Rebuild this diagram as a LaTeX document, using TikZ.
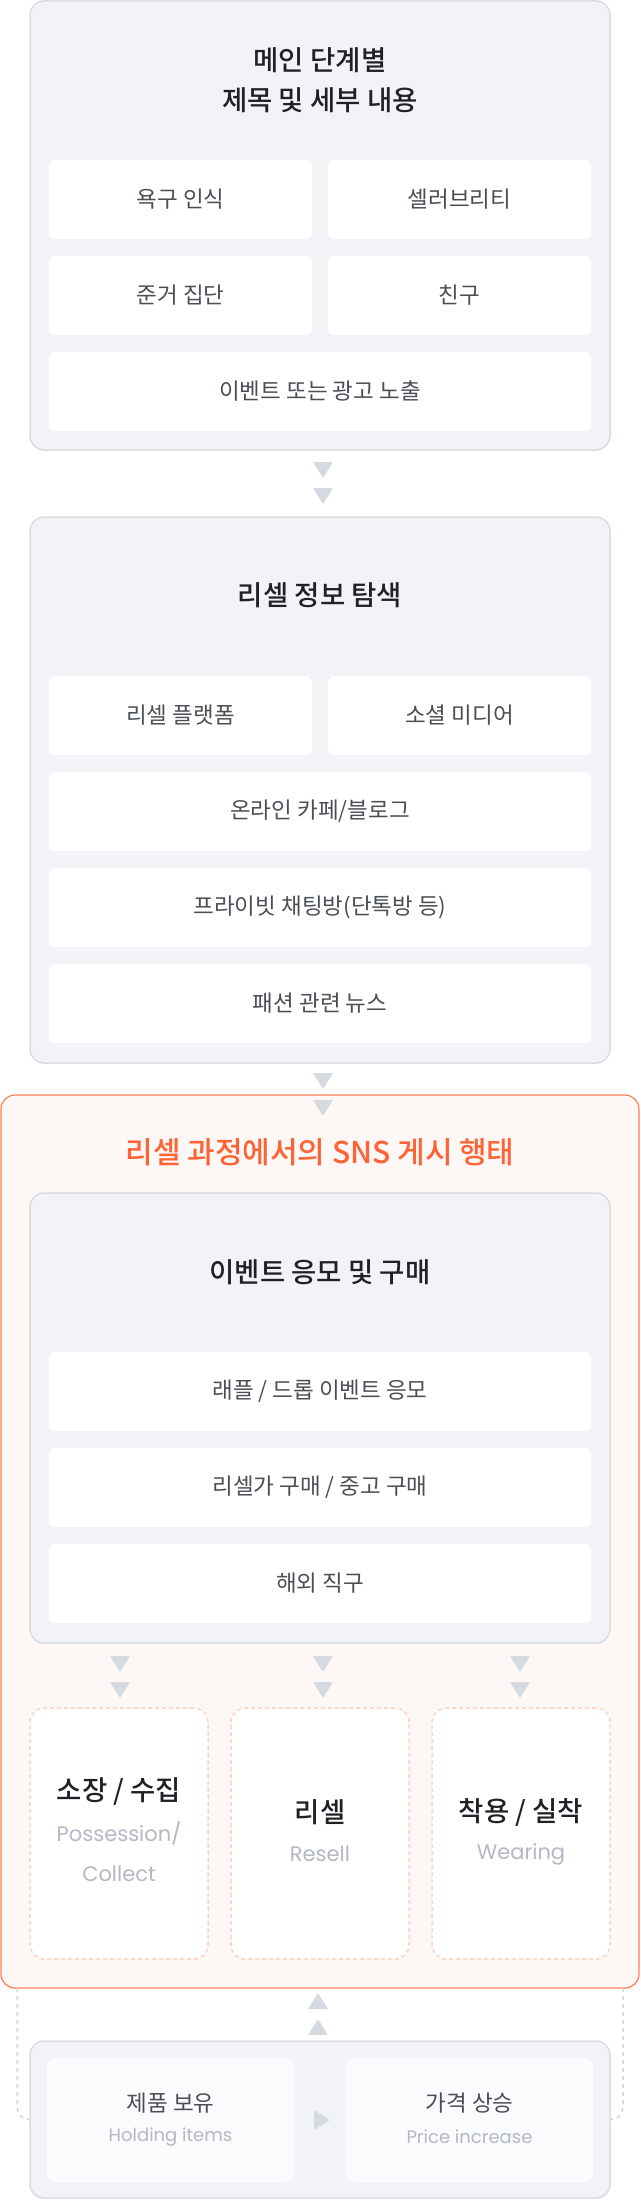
\documentclass[tikz,border=0pt]{standalone}
\usepackage{fontspec}
\setmainfont{Noto Sans CJK KR}[BoldFont={Noto Sans CJK KR Medium}]
\newfontfamily\latinfont{Poppins}

\definecolor{panelfill}{HTML}{F2F3F6}
\definecolor{panelline}{HTML}{D9DCE3}
\definecolor{trifill}{HTML}{D5D9E0}
\definecolor{itemtext}{HTML}{4A4E57}
\definecolor{headtext}{HTML}{1E2126}
\definecolor{orangefill}{HTML}{FDF7F5}
\definecolor{orangeline}{HTML}{FF7F56}
\definecolor{orangetext}{HTML}{FF6233}
\definecolor{dashline}{HTML}{FFD2C2}
\definecolor{subtext}{HTML}{B3B8C5}
\definecolor{softfill}{HTML}{FAFBFC}
\definecolor{connline}{HTML}{D3D6DD}

\begin{document}
\begin{tikzpicture}[x=1pt, y=-1pt,
	panel/.style={draw=panelline, fill=panelfill, line width=1.5pt, rounded corners=14pt, inner sep=0pt, minimum width=580pt},
	item/.style={fill=white, rounded corners=6pt, inner sep=0pt, minimum height=79pt, text=itemtext, font=\fontsize{22.5}{26}\selectfont},
	half/.style={item, minimum width=263pt},
	full/.style={item, minimum width=542pt},
	head/.style={text=headtext, font=\fontsize{27.5}{40}\selectfont\bfseries, align=center},
	sub/.style={text=subtext, font=\latinfont\fontsize{21}{25}\selectfont},
	dashbox/.style={draw=dashline, fill=white, line width=1.5pt, dash pattern=on 4pt off 3pt, rounded corners=14pt, inner sep=0pt, minimum width=178pt, minimum height=251pt},
	tri/.style={fill=trifill, rounded corners=1pt},
	conn/.style={draw=connline, line width=1.5pt, dash pattern=on 4pt off 4pt, rounded corners=12pt}]

	\fill[white] (0,0) rectangle (640,2200);
	\useasboundingbox (0,0) rectangle (640,2200);

	% main stage
	\node[panel, minimum height=449pt] (main) at (320,225.5) {};
	\node[head] (maintitle) at (320,80) {메인 단계별\\제목 및 세부 내용};
	\node[half] (need) at (180.5,199.5) {욕구 인식};
	\node[half] (celeb) at (459.5,199.5) {셀러브리티};
	\node[half] (group) at (180.5,295.5) {준거 집단};
	\node[half] (friend) at (459.5,295.5) {친구};
	\node[full] (ads) at (320,391.5) {이벤트 또는 광고 노출};

	% search
	\node[panel, minimum height=546pt] (search) at (320,790) {};
	\node[head] (searchtitle) at (320,595) {리셀 정보 탐색};
	\node[half] (platform) at (180.5,715.5) {리셀 플랫폼};
	\node[half] (social) at (459.5,715.5) {소셜 미디어};
	\node[full] (cafe) at (320,811.5) {온라인 카페/블로그};
	\node[full] (chat) at (320,907.5) {프라이빗 채팅방(단톡방 등)};
	\node[full] (news) at (320,1003.5) {패션 관련 뉴스};

	% sns behaviour
	\node[draw=orangeline, fill=orangefill, line width=1.2pt, rounded corners=14pt, minimum width=638pt, minimum height=893pt] (sns) at (320,1541.5) {};
	\node[text=orangetext, font=\fontsize{30}{36}\selectfont\bfseries] (snstitle) at (320,1152) {리셀 과정에서의 SNS 게시 행태};

	\node[panel, minimum height=450pt] (event) at (320,1418) {};
	\node[head] (eventtitle) at (320,1272) {이벤트 응모 및 구매};
	\node[full] (raffle) at (320,1391.5) {래플 / 드롭 이벤트 응모};
	\node[full] (buy) at (320,1487.5) {리셀가 구매 / 중고 구매};
	\node[full] (direct) at (320,1583.5) {해외 직구};

	\node[dashbox] (keep) at (119,1833.5) {};
	\node[dashbox] (resell) at (320,1833.5) {};
	\node[dashbox] (wear) at (521,1833.5) {};
	\node[head] (keeptitle) at (119,1792) {소장 / 수집};
	\node[sub] (keepsub) at (119,1833) {Possession/};
	\node[sub] (keepsubb) at (119,1874) {Collect};
	\node[head] (reselltitle) at (320,1812) {리셀};
	\node[sub] (resellsub) at (320,1854) {Resell};
	\node[head] (weartitle) at (521,1812) {착용 / 실착};
	\node[sub] (wearsub) at (521,1854) {Wearing};

	% holding
	\node[panel, minimum height=157pt] (hold) at (320,2119.5) {};
	\node[fill=softfill, rounded corners=8pt, minimum width=247pt, minimum height=124pt] (items) at (170.5,2120) {};
	\node[fill=softfill, rounded corners=8pt, minimum width=247pt, minimum height=124pt] (price) at (469.5,2120) {};
	\node[text=itemtext, font=\fontsize{22.5}{26}\selectfont] (itemstitle) at (170.5,2103) {제품 보유};
	\node[text=subtext, font=\latinfont\fontsize{18}{22}\selectfont] (itemssub) at (170.5,2137) {Holding items};
	\node[text=itemtext, font=\fontsize{22.5}{26}\selectfont] (pricetitle) at (469.5,2103) {가격 상승};
	\node[text=subtext, font=\latinfont\fontsize{18}{22}\selectfont] (pricesub) at (469.5,2137) {Price increase};

	\coordinate (backl) at (17,1988);
	\coordinate (backr) at (623,1988);
	\draw[conn] (backl) |- (hold.west);
	\draw[conn] (backr) |- (hold.east);

	% arrow heads
	\foreach \tx/\ty in {323/470, 323/496, 323/1081, 323/1108, 120/1664, 323/1664, 520/1664, 120/1690, 323/1690, 520/1690}
	{
	\fill[tri] (\tx-10,\ty-8) -- (\tx+10,\ty-8) -- (\tx,\ty+8) -- cycle;
}
	\foreach \ty in {2001, 2027}
	{
	\fill[tri] (308,\ty+8) -- (328,\ty+8) -- (318,\ty-8) -- cycle;
}
	\fill[tri] (314,2110) -- (314,2130) -- (330,2120) -- cycle;

\end{tikzpicture}
\end{document}
